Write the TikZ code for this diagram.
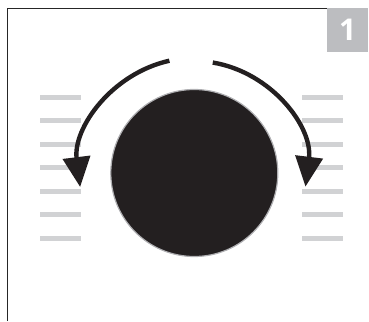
\documentclass[tikz,border=0pt]{standalone}
\usepackage{fontspec}
\setsansfont{Open Sans}
\usetikzlibrary{positioning,arrows.meta,calc}
\definecolor{knobFill}{RGB}{35,31,32}
\definecolor{knobRim}{RGB}{175,175,178}
\definecolor{tickGray}{RGB}{209,210,212}
\definecolor{tagGray}{RGB}{188,189,192}
\tikzset{
  knob/.style={circle, fill=knobFill, draw=knobRim, line width=1.2pt, minimum size=167pt, inner sep=0pt},
  tick/.style={draw=tickGray, line width=5pt},
  turn/.style={-{Triangle[length=30pt, width=27pt]}, draw=knobFill, line width=4.4pt},
  tag/.style={rectangle, fill=tagGray, minimum width=41pt, minimum height=44pt, inner sep=0pt,
              text=white, font=\sffamily\bfseries\fontsize{30}{30}\selectfont},
  frame/.style={draw=black!85, line width=0.9pt},
}

\begin{document}
\begin{tikzpicture}[x=1pt, y=1pt]
  \useasboundingbox (0,0) rectangle (369,321);
  % frame and number tag
  \coordinate (topL) at (7,313);
  \coordinate (botL) at (7,0);
  \node[tag, anchor=north west] (num) at (327,313) {1};
  \draw[frame] (botL) -- (topL) -- (num.north west);
  % scale ticks
  \foreach \i in {0,...,6} {
    \draw[tick] (40,{223.5-23.5*\i}) -- (81,{223.5-23.5*\i});
    \draw[tick] (302,{223.5-23.5*\i}) -- (343,{223.5-23.5*\i});
  }
  % knob
  \node[knob] (dial) at (194.3,148) {};
  % turning arrows
  \draw[turn] ($(dial.center)+(102.5:115)$) arc[start angle=102.5, end angle=187, radius=115];
  \draw[turn] ($(dial.center)+(80.5:112)$) arc[start angle=80.5, end angle=-7, radius=112];
\end{tikzpicture}
\end{document}
